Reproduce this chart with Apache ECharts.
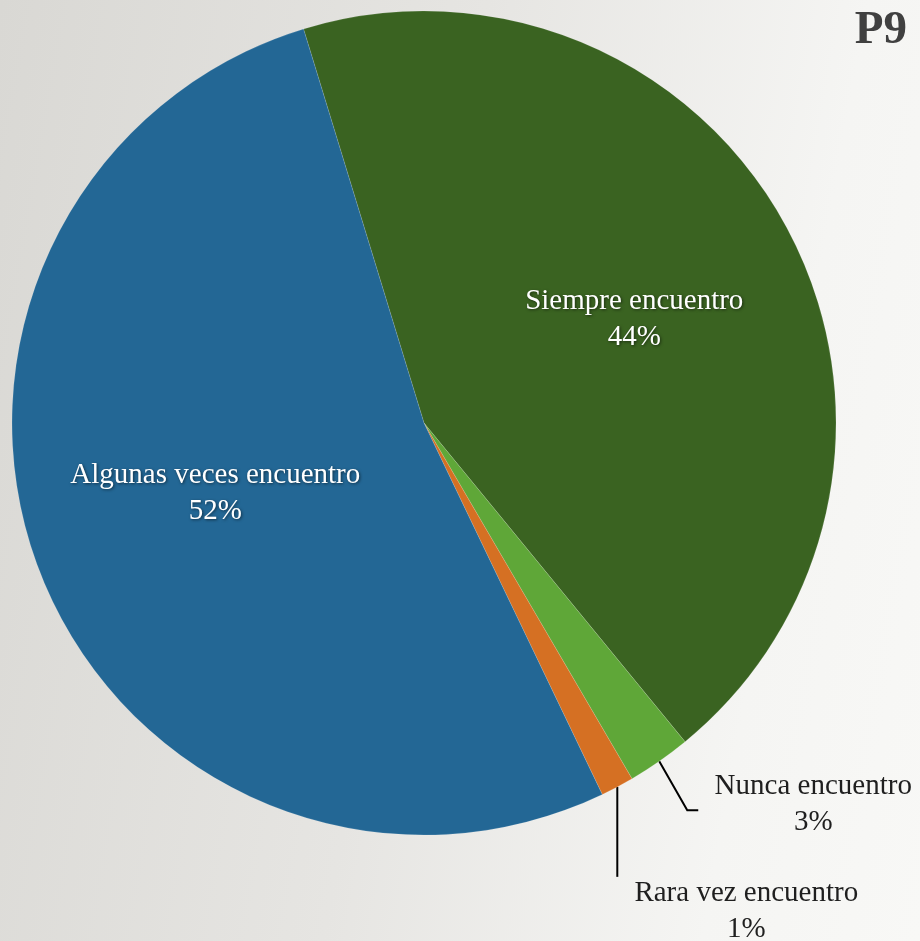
<!DOCTYPE html>
<html>
<head>
<meta charset="utf-8">
<script src="https://cdn.jsdelivr.net/npm/echarts@6/dist/echarts.min.js"></script>
<style>
html,body{margin:0;padding:0;width:920px;height:941px;overflow:hidden;}
body{background:linear-gradient(100deg,#d9d8d4 0%,#e6e5e2 45%,#f5f5f3 80%,#f8f8f6 100%);}
#c{width:920px;height:941px;}
</style>
</head>
<body>
<div id="c"></div>
<script>
const categories = ['Siempre encuentro', 'Nunca encuentro', 'Rara vez encuentro', 'Algunas veces encuentro'];
const values = [43.8, 2.5, 1.3, 52.4];
const colors = ['#3a6321', '#5fa738', '#d57023', '#236795'];
const titleText = 'P9';

const total = values.reduce((a, b) => a + b, 0);
const insideIdx = [0, 3];
const chart = echarts.init(document.getElementById('c'), null, {renderer: 'canvas'});

const fontFamily = '"Liberation Serif", "DejaVu Serif", serif';
const data = categories.map((name, i) => {
  const inside = insideIdx.includes(i);
  return {
    name: name,
    value: values[i],
    itemStyle: {color: colors[i]},
    label: inside ? {
      position: 'inside',
      color: '#ffffff',
      textShadowColor: 'rgba(0,0,0,0.55)',
      textShadowBlur: 3,
      textShadowOffsetX: 1,
      textShadowOffsetY: 1
    } : {
      position: 'outside',
      color: '#1f1f1f'
    },
    labelLine: {show: !inside, lineStyle: {color: '#000000', width: 2}}
  };
});

chart.setOption({
  backgroundColor: 'transparent',
  animation: false,
  title: {
    text: titleText,
    right: 8,
    top: 2,
    textStyle: {fontFamily: fontFamily, fontWeight: 'bold', fontSize: 47, color: '#404040'}
  },
  series: [{
    type: 'pie',
    center: [424, 423],
    radius: 412,
    startAngle: 107,
    clockwise: true,
    avoidLabelOverlap: false,
    itemStyle: {borderColor: 'rgba(255,255,255,0.25)', borderWidth: 0.5},
    label: {
      show: true,
      fontFamily: fontFamily,
      fontSize: 29,
      lineHeight: 36,
      align: 'center',
      formatter: function (p) {
        return p.name + '\n' + Math.round(p.value / total * 100) + '%';
      }
    },
    labelLayout: function (params) {
      const i = params.dataIndex;
      const pts = params.labelLinePoints;
      if (i === 0) return {dx: 26, dy: -5};
      if (i === 3) return {dx: -14, dy: -6};
      if (!pts) return {};
      const p0 = pts[0];
      if (i === 1) {
        return {
          x: p0[0] + 154, y: p0[1] + 43, align: 'center', verticalAlign: 'middle',
          labelLinePoints: [[p0[0], p0[1]], [p0[0] + 28, p0[1] + 49], [p0[0] + 39, p0[1] + 49]]
        };
      }
      if (i === 2) {
        return {
          x: p0[0] + 129, y: p0[1] + 125, align: 'center', verticalAlign: 'middle',
          labelLinePoints: [[p0[0], p0[1]], [p0[0], p0[1] + 45], [p0[0], p0[1] + 90]]
        };
      }
      return {};
    },
    data: data
  }]
});
</script>
</body>
</html>
